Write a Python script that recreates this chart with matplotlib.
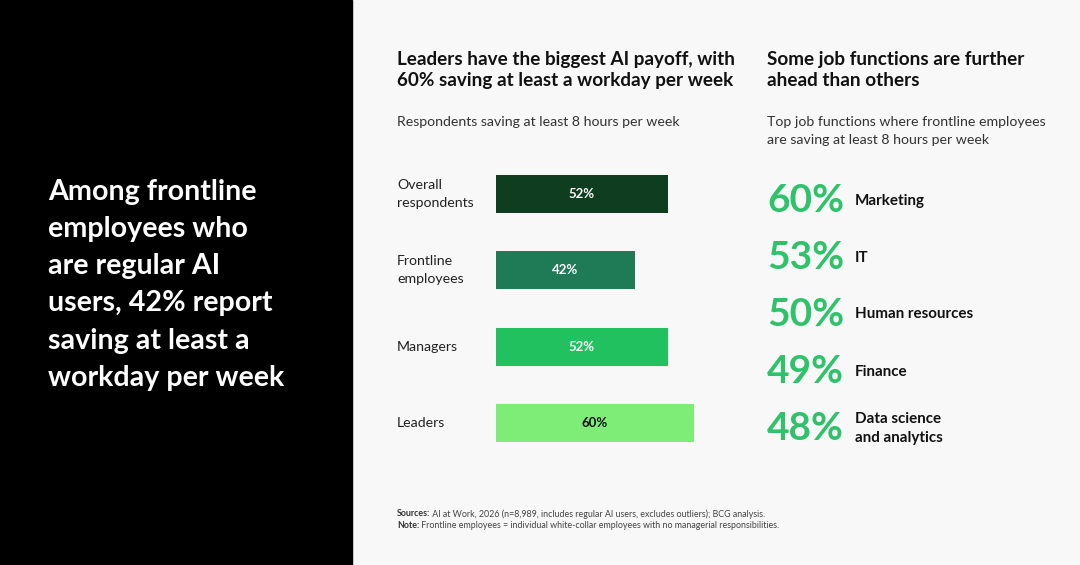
import matplotlib
matplotlib.use("Agg")
import matplotlib.pyplot as plt
from matplotlib.patches import Rectangle
from matplotlib.transforms import blended_transform_factory

plt.rcParams["font.family"] = ["Lato", "DejaVu Sans"]

W, H = 1080, 565
BG = "#f8f8f8"
GREEN = "#2ec26a"

# data
groups = ["Overall\nrespondents", "Frontline\nemployees", "Managers", "Leaders"]
shares = [52, 42, 52, 60]
bar_colors = ["#0e3e1f", "#1f7a56", "#22c160", "#7eed77"]
label_colors = ["white", "white", "white", "#111111"]

functions = ["Marketing", "IT", "Human resources", "Finance", "Data science\nand analytics"]
func_shares = [60, 53, 50, 49, 48]


def px(x, y):
    # pixel (from top-left) -> figure fraction
    return x / W, 1 - y / H


fig = plt.figure(figsize=(W / 100, H / 100), dpi=100, facecolor=BG)

# left black panel
fig.patches.append(Rectangle((0, 0), 352 / W, 1, transform=fig.transFigure,
                             color="black", zorder=0))
fig.text(*px(48, 179), "Among frontline\nemployees who\nare regular AI\nusers, 42% report\nsaving at least a\nworkday per week",
         color="white", fontsize=20.6, fontweight="bold", va="top", ha="left",
         linespacing=1.53)
# headings
fig.text(*px(397, 70), "Leaders have the biggest AI payoff, with\n60% saving at least a workday per week",
         fontsize=13.6, fontweight="bold", va="center", color="#111", linespacing=1.32)
fig.text(*px(767, 70), "Some job functions are further\nahead than others",
         fontsize=13.6, fontweight="bold", va="center", color="#111", linespacing=1.32)
fig.text(*px(397, 122), "Respondents saving at least 8 hours per week",
         fontsize=10.2, va="center", color="#333")
fig.text(*px(767, 131), "Top job functions where frontline employees\nare saving at least 8 hours per week",
         fontsize=10.2, va="center", color="#333", linespacing=1.6)

# bar chart
ax = fig.add_axes([496 / W, 1 - 461 / H, 330 / W, 305 / H])
ax.set_facecolor("none")
ax.barh(range(len(groups)), shares, height=0.5, color=bar_colors)
ax.set_xlim(0, 100)
ax.set_ylim(3.5, -0.5)
ax.axis("off")
tr = blended_transform_factory(ax.transAxes, ax.transData)
for i, (g, v) in enumerate(zip(groups, shares)):
    ax.text(v / 2, i, f"{v}%", ha="center", va="center", fontsize=9.5,
            fontweight="bold", color=label_colors[i])
    ax.text(-0.3, i, g, transform=tr, ha="left", va="center", fontsize=10.2,
            color="#222", linespacing=1.6)

# right column: big numbers
ax2 = fig.add_axes([767 / W, 1 - 457 / H, 300 / W, 285 / H])
ax2.set_facecolor("none")
ax2.set_xlim(0, 1)
ax2.set_ylim(len(functions) - 0.5, -0.5)
ax2.axis("off")
for i, (f, v) in enumerate(zip(functions, func_shares)):
    ax2.text(0, i, f"{v}%", ha="left", va="center", fontsize=28,
             fontweight="bold", color=GREEN)
    ax2.text(88 / 300, i, f, ha="left", va="center", fontsize=10.9,
             fontweight="bold", color="#111", linespacing=1.4)

# footnotes
r = fig.canvas.get_renderer()
for y, bold, rest in [(514, "Sources:", " AI at Work, 2026 (n=8,989, includes regular AI users, excludes outliers); BCG analysis."),
                      (525, "Note:", " Frontline employees = individual white-collar employees with no managerial responsibilities.")]:
    t = fig.text(*px(397, y), bold, fontsize=6.4, fontweight="bold", color="#333", va="center")
    bb = t.get_window_extent(r)
    fig.text(bb.x1 / W, 1 - y / H, rest, fontsize=6.4, color="#444", va="center")

fig.savefig("out.png", dpi=100, facecolor=BG)
